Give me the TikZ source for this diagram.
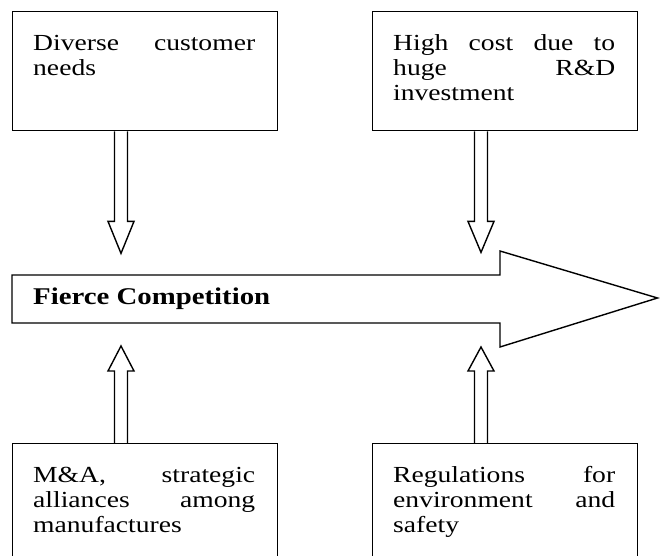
\documentclass[tikz,border=0pt]{standalone}
\usepackage{fontspec}
\setmainfont{Liberation Serif}[FakeStretch=1.2]
\usetikzlibrary{calc}
\tikzset{
  box/.style={draw, line width=1.4pt, minimum width=265pt, minimum height=119pt, anchor=north west, inner sep=0pt},
  txt/.style={anchor=north west, inner sep=0pt, text width=222pt, align=left, font=\fontsize{23}{25}\selectfont},
  hollow/.style={line width=1.4pt, to path={
    let \p1=(\tikztostart), \p2=(\tikztotarget), \n1={(\y1>\y2)?1:-1} in
    ({\x1-6.5pt},\y1) -- ({\x1-6.5pt},{\y2+\n1*#1}) -- ({\x1-13pt},{\y2+\n1*#1}) -- (\x2,\y2)
    -- ({\x1+13pt},{\y2+\n1*#1}) -- ({\x1+6.5pt},{\y2+\n1*#1}) -- ({\x1+6.5pt},\y1)}},
}
\newcommand{\firstline}{\rule{0pt}{16pt}}
\begin{document}
\begin{tikzpicture}[x=1pt,y=-1pt]
  \useasboundingbox (0,0) rectangle (662,556);
  \clip (0,0) rectangle (662,556);
  % boxes
  \node[box] (b1) at (12,11) {};
  \node[box] (b2) at (372,11) {};
  \node[box, minimum height=130pt] (b3) at (12,443) {};
  \node[box, minimum height=130pt] (b4) at (372,443) {};
  % texts
  \node[txt] (x1) at ($(b1.north west)+(21,23)$) {\firstline Diverse\hfill customer\\needs};
  \node[txt] (x2) at ($(b2.north west)+(21,23)$) {\firstline High\hfill cost\hfill due\hfill to\\huge\hfill R\&D\\investment};
  \node[txt] (x3) at ($(b3.north west)+(21,23)$) {\firstline M\&A,\hfill strategic\\alliances\hfill among\\manufactures};
  \node[txt] (x4) at ($(b4.north west)+(21,23)$) {\firstline Regulations\hfill for\\environment\hfill and\\safety};
  % big arrow
  \coordinate (p1) at (12,275);
  \coordinate (p2) at (500,275);
  \coordinate (p3) at (500,251);
  \coordinate (tip) at (657.5,298);
  \coordinate (p4) at (500,347);
  \coordinate (p5) at (500,323);
  \coordinate (p6) at (12,323);
  \draw[line width=1.4pt] (p1) -- (p2) -- (p3) -- (tip) -- (p4) -- (p5) -- (p6) -- cycle;
  \node[anchor=base west, inner sep=0pt, font=\fontsize{24}{28}\selectfont\bfseries] (fc) at (33,305) {Fierce Competition};
  % connectors
  \coordinate (s1) at ($(b1.south west)+(109,0)$);
  \coordinate (t1) at ($(s1)+(0,122)$);
  \coordinate (s2) at ($(b2.south west)+(109,0)$);
  \coordinate (t2) at ($(s2)+(0,121)$);
  \coordinate (s3) at ($(b3.north west)+(109,0)$);
  \coordinate (t3) at ($(s3)+(0,-97)$);
  \coordinate (s4) at ($(b4.north west)+(109,0)$);
  \coordinate (t4) at ($(s4)+(0,-96)$);
  \draw[hollow=32pt] (s1) to (t1);
  \draw[hollow=31pt] (s2) to (t2);
  \draw[hollow=25pt] (s3) to (t3);
  \draw[hollow=24pt] (s4) to (t4);
\end{tikzpicture}
\end{document}
